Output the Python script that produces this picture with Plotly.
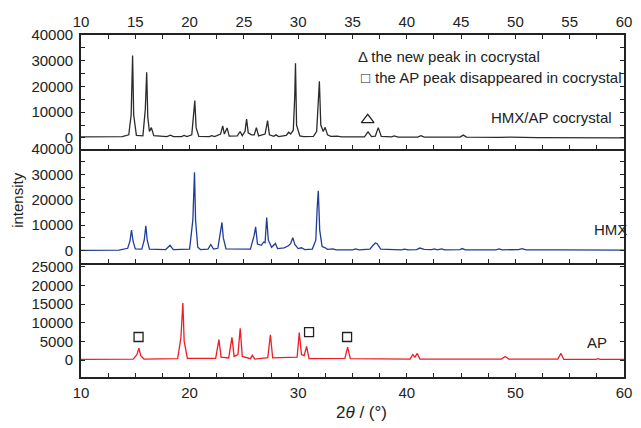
import plotly.graph_objects as go

# ---------------- data ----------------
cocrystal_x = [10, 13.8, 14.4, 14.62, 14.75, 14.85, 15.1, 15.7, 15.92, 16.05, 16.15, 16.3, 16.48, 16.7,
               17.9, 18.25, 18.5, 19.25, 19.5, 19.75, 20.2, 20.38, 20.48, 20.6, 20.85, 21.8, 22.05, 22.3,
               22.85, 23.05, 23.2, 23.45, 23.65, 24.4, 24.65, 24.85, 25.1, 25.25, 25.4, 25.7, 25.95, 26.15,
               26.35, 26.95, 27.18, 27.35, 27.75, 27.95, 28.2, 28.9, 29.12, 29.3, 29.55, 29.68, 29.75, 29.85,
               30.15, 30.5, 31.4, 31.7, 31.85, 31.95, 32.08, 32.3, 32.48, 32.7, 33.0, 33.6, 34.0, 36.1, 36.43,
               36.75, 37.1, 37.37, 37.65, 38.6, 38.85, 39.2, 41.0, 41.3, 41.6, 44.9, 45.2, 45.5, 48.5, 49.5,
               52, 60]
cocrystal_y = [400, 500, 1200, 9000, 32000, 9000, 1000, 800, 11000, 25500, 8000, 2500, 4000, 900,
               500, 1100, 500, 500, 1000, 500, 1200, 11000, 14500, 4000, 600, 500, 900, 500,
               1500, 4700, 1500, 3900, 700, 800, 2500, 900, 2500, 7300, 2000, 1200, 1200, 4000,
               800, 1500, 6700, 1200, 600, 1200, 500, 1000, 2200, 1500, 3000, 16000, 29000, 5000,
               800, 500, 600, 2500, 12000, 22000, 5000, 2500, 4100, 1200, 600, 700, 400, 400, 2400,
               500, 700, 4000, 600, 400, 800, 300, 300, 900, 300, 300, 1100, 300, 200, 300,
               100, 0]

hmx_x = [10, 13.5, 14.3, 14.5, 14.65, 14.8, 15.0, 15.6, 15.82, 15.97, 16.1, 16.3, 17.8, 18.2, 18.5,
         20.0, 20.3, 20.45, 20.55, 20.75, 21.0, 21.7, 21.95, 22.2, 22.6, 22.85, 22.98, 23.1, 23.35,
         25.6, 25.95, 26.08, 26.25, 26.6, 26.82, 26.95, 27.1, 27.25, 27.55, 27.9, 28.1, 28.7, 29.1,
         29.3, 29.5, 29.7, 30.0, 30.3, 30.6, 31.3, 31.62, 31.75, 31.85, 31.98, 32.2, 32.45, 32.7,
         33.2, 33.5, 35.0, 35.3, 35.6, 36.6, 36.9, 37.1, 37.25, 37.6, 39.5, 39.8, 40.1, 40.9, 41.2,
         41.6, 42.3, 42.55, 42.8, 43.2, 43.5, 44.9, 45.1, 45.4, 48.2, 48.5, 48.8, 50.3, 50.6, 51.0,
         54, 60]
hmx_y = [0, 100, 800, 3500, 8000, 3500, 600, 500, 4000, 9700, 4000, 500, 300, 2000, 300,
         500, 12000, 30800, 12000, 1200, 300, 500, 2300, 500, 800, 7000, 11000, 5000, 600,
         500, 6000, 9300, 2500, 2000, 3300, 3000, 12900, 4000, 1200, 2700, 700, 1000, 1800,
         2600, 5000, 2200, 700, 1000, 300, 500, 4000, 17000, 23500, 8000, 1500, 1100, 400,
         600, 200, 200, 600, 200, 500, 2000, 2900, 2700, 500, 200, 500, 200, 300, 900,
         400, 300, 600, 200, 600, 200, 300, 700, 200, 200, 600, 200, 300, 700, 200,
         200, 100]

ap_x = [10, 13, 14.8, 15.15, 15.33, 15.5, 15.8, 18.9, 19.2, 19.38, 19.5, 19.8, 22.4, 22.7, 22.9,
        23.6, 23.9, 24.1, 24.45, 24.66, 24.85, 25.6, 25.78, 26.0, 27.2, 27.44, 27.65, 29.9, 30.1,
        30.3, 30.55, 30.77, 31.0, 34.3, 34.55, 34.8, 40.3, 40.55, 40.75, 40.97, 41.2, 48.7, 49.07,
        49.4, 53.9, 54.2, 54.45, 57.4, 57.6, 57.8, 60]
ap_y = [200, 200, 300, 1500, 3200, 1200, 300, 400, 6000, 15300, 5000, 500, 500, 5500, 800,
        600, 6100, 1000, 1500, 8500, 1000, 400, 1300, 300, 700, 6800, 600, 800, 7400,
        1500, 1200, 3700, 400, 500, 3500, 400, 300, 1500, 800, 1800, 300, 300, 1000,
        300, 300, 1800, 200, 200, 400, 200, 200]

new_peak_x = [36.4]
new_peak_y = [7000]
lost_peak_x = [15.3, 31.0, 34.5]
lost_peak_y = [6200, 7500, 6200]

x_tick_step_bottom = 10
x_tick_step_top = 5

FONT = "Liberation Sans, Arial, sans-serif"
BLACK = "#222222"
LW = 1.8

fig = go.Figure()
fig.add_trace(go.Scatter(x=cocrystal_x, y=cocrystal_y, mode="lines", xaxis="x3", yaxis="y3",
                         line=dict(color="#2b2b2b", width=1.3), showlegend=False))
fig.add_trace(go.Scatter(x=hmx_x, y=hmx_y, mode="lines", xaxis="x2", yaxis="y2",
                         line=dict(color="#1f3c98", width=1.3), showlegend=False))
fig.add_trace(go.Scatter(x=ap_x, y=ap_y, mode="lines", xaxis="x", yaxis="y",
                         line=dict(color="#f01c24", width=1.3), showlegend=False))
fig.add_trace(go.Scatter(x=new_peak_x, y=new_peak_y, mode="markers", xaxis="x3", yaxis="y3",
                         marker=dict(symbol="triangle-up-open", size=11, color=BLACK,
                                     line=dict(width=1.3, color=BLACK)), showlegend=False))
fig.add_trace(go.Scatter(x=lost_peak_x, y=lost_peak_y, mode="markers", xaxis="x", yaxis="y",
                         marker=dict(symbol="square-open", size=9, color=BLACK,
                                     line=dict(width=1.3, color=BLACK)), showlegend=False))
# empty trace so the overlay axis at the bottom of the top panel is drawn
fig.add_trace(go.Scatter(x=[None], y=[None], xaxis="x4", yaxis="y3", showlegend=False,
                         hoverinfo="skip"))

minor_x = dict(tickmode="linear", tick0=10, dtick=2.5, ticks="inside", ticklen=4,
               tickwidth=1.2, tickcolor=BLACK, showgrid=False)
common_x = dict(range=[10, 60], showgrid=False, zeroline=False, showline=True, linecolor=BLACK,
                linewidth=LW, mirror=False, ticks="inside", ticklen=4, tickwidth=1.2,
                tickcolor=BLACK, tickfont=dict(family=FONT, size=15, color=BLACK),
                tickmode="linear", tick0=10, minor=minor_x)
common_y = dict(showgrid=False, zeroline=False, showline=True, linecolor=BLACK, linewidth=LW,
                mirror="allticks", ticks="inside", ticklen=4, tickwidth=1.2, tickcolor=BLACK,
                tickformat="d", tickfont=dict(family=FONT, size=15, color=BLACK), ticklabelstandoff=3,
                tickmode="linear", tick0=0)
minor_y = dict(tickmode="linear", tick0=0, dtick=5000, ticks="inside", ticklen=4, tickwidth=1.2,
               tickcolor=BLACK, showgrid=False)

third = 1 / 3
fig.update_layout(
    width=641, height=428,
    margin=dict(l=81, r=9, t=35, b=51),
    paper_bgcolor="white", plot_bgcolor="white",
    font=dict(family=FONT, size=15, color=BLACK),
    xaxis=dict(common_x, anchor="y", domain=[0, 1], dtick=x_tick_step_bottom, ticklabelstandoff=1),
    xaxis2=dict(common_x, anchor="y2", domain=[0, 1], dtick=x_tick_step_bottom, showticklabels=False),
    xaxis3=dict(common_x, anchor="y3", domain=[0, 1], side="top", dtick=x_tick_step_top,
                ticklabelstandoff=0),
    xaxis4=dict(common_x, overlaying="x3", anchor="y3", side="bottom", dtick=x_tick_step_bottom,
                showticklabels=False),
    yaxis=dict(common_y, anchor="x", domain=[0, third], range=[-4500, 26000], dtick=5000),
    yaxis2=dict(common_y, anchor="x2", domain=[third, 2 * third], range=[-5000, 40000], dtick=10000,
                minor=minor_y),
    yaxis3=dict(common_y, anchor="x3", domain=[2 * third, 1], range=[-4300, 40000], dtick=10000,
                minor=minor_y),
)

ann = [
    dict(text="Δ the new peak in cocrystal", x=35.3, y=31700, xref="x3", yref="y3",
         xanchor="left", yanchor="middle", showarrow=False),
    dict(text="□", x=36.2, y=23500, xref="x3", yref="y3",
         xanchor="center", yanchor="middle", showarrow=False, font=dict(size=15)),
    dict(text="the AP peak disappeared in cocrystal", x=36.85, y=23500, xref="x3", yref="y3",
         xanchor="left", yanchor="middle", showarrow=False),
    dict(text="HMX/AP cocrystal", x=59.1, y=7800, xref="x3", yref="y3",
         xanchor="right", yanchor="middle", showarrow=False),
    dict(text="HMX", x=1.009, y=8400, xref="paper", yref="y2",
         xanchor="right", yanchor="middle", showarrow=False),
    dict(text="AP", x=58.6, y=4600, xref="x", yref="y",
         xanchor="right", yanchor="middle", showarrow=False),
    dict(text="intensity", x=-0.116, y=0.518, xref="paper", yref="paper", textangle=-90,
         xanchor="center", yanchor="middle", showarrow=False),
    dict(text="2<i>θ</i> / (°)", x=0.517, y=-0.103, xref="paper", yref="paper",
         xanchor="center", yanchor="middle", showarrow=False, font=dict(size=17)),
]
fig.update_layout(annotations=ann)

fig.write_html("out.html", config={"displayModeBar": False},
               post_script="document.body.style.margin='0';")
